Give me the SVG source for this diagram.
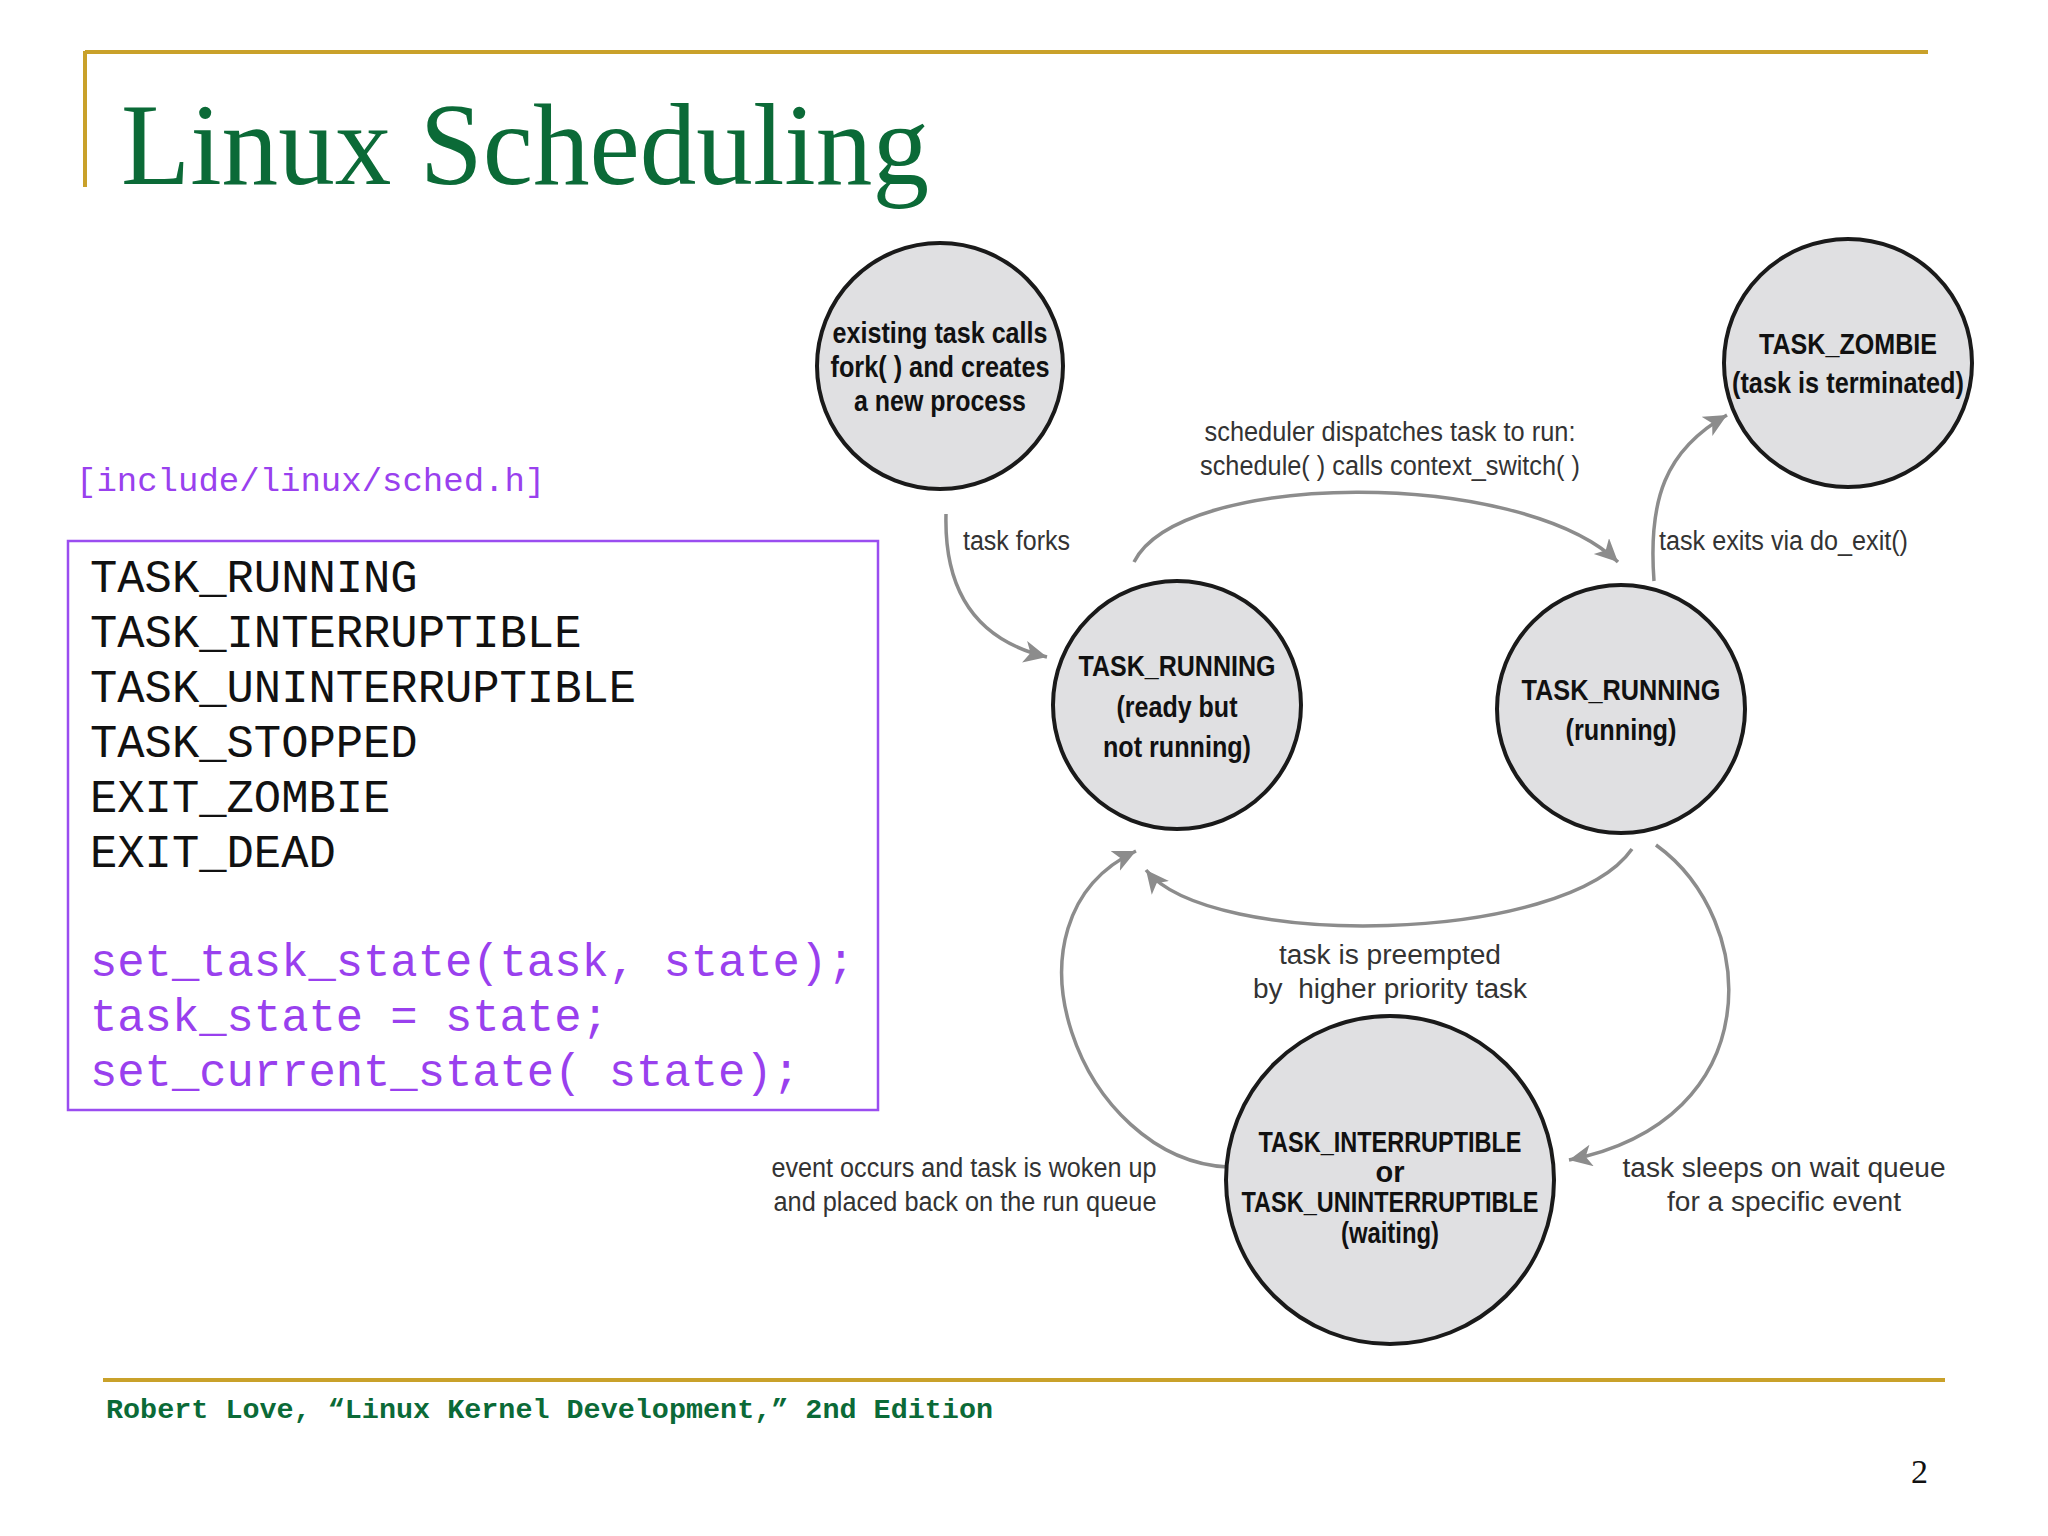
<svg xmlns="http://www.w3.org/2000/svg" width="2048" height="1536" viewBox="0 0 2048 1536">
<defs>
<style>
.gold{stroke:#c9a12a;stroke-width:4;fill:none}
.title{font-family:"Liberation Serif","Times New Roman",serif;font-size:116px;fill:#0b6a37}
.mono{font-family:"Liberation Mono","Courier New",monospace;font-size:45.5px;fill:#111}
.code{font-family:"Liberation Mono","Courier New",monospace;font-size:45.5px;fill:#9940ee}
.inc{font-family:"Liberation Mono","Courier New",monospace;font-size:34px;fill:#9940ee}
.foot{font-family:"Liberation Mono","Courier New",monospace;font-size:28.4px;font-weight:bold;fill:#0b6a37}
.pg{font-family:"Liberation Serif","Times New Roman",serif;font-size:34px;fill:#111}
.node circle{fill:#e0e0e2;stroke:#1a1a1a;stroke-width:4}
.nt{font-family:"Liberation Sans",Arial,sans-serif;font-size:29px;font-weight:bold;fill:#111;text-anchor:middle}
.edge{fill:none;stroke:#8c8c8c;stroke-width:3.5;marker-end:url(#arr)}
.lbl{font-family:"Liberation Sans",Arial,sans-serif;font-size:27px;fill:#333}
</style>
<marker id="arr" markerUnits="userSpaceOnUse" markerWidth="28" markerHeight="24" refX="23" refY="11" orient="auto">
<path d="M0,0 L23,11 L0,22 L6,11 z" fill="#8c8c8c"/>
</marker>
</defs>
<rect width="2048" height="1536" fill="#ffffff"/>

<!-- header -->
<path class="gold" d="M85,52 L1928,52 M85,51 L85,187"/>
<text class="title" x="121" y="184" textLength="808" lengthAdjust="spacingAndGlyphs">Linux Scheduling</text>

<!-- left panel -->
<text class="inc" x="76" y="491">[include/linux/sched.h]</text>
<g id="state-box">
<rect x="68" y="541" width="810" height="569" fill="none" stroke="#9a4df0" stroke-width="2.5"/>
<text class="mono" x="90" y="592">TASK_RUNNING</text>
<text class="mono" x="90" y="647">TASK_INTERRUPTIBLE</text>
<text class="mono" x="90" y="702">TASK_UNINTERRUPTIBLE</text>
<text class="mono" x="90" y="757">TASK_STOPPED</text>
<text class="mono" x="90" y="812">EXIT_ZOMBIE</text>
<text class="mono" x="90" y="867">EXIT_DEAD</text>
<text class="code" x="90" y="976">set_task_state(task, state);</text>
<text class="code" x="90" y="1031">task_state = state;</text>
<text class="code" x="90" y="1086">set_current_state( state);</text>
</g>

<!-- connectors -->
<g id="connectors">
<path class="edge" d="M946,514 C944,590 975,640 1047,657"/>
<path class="edge" d="M1134,562 C1180,470 1520,468 1618,562"/>
<path class="edge" d="M1654,581 C1648,500 1665,450 1727,415"/>
<path class="edge" d="M1632,849 C1565,945 1210,950 1146,870"/>
<path class="edge" d="M1228,1167 C1080,1160 990,920 1136,851"/>
<path class="edge" d="M1656,845 C1760,920 1770,1120 1569,1160"/>
</g>
<g id="edge-labels">
<text class="lbl" x="963" y="550" textLength="107" lengthAdjust="spacingAndGlyphs">task forks</text>
<text class="lbl" x="1390" y="441" text-anchor="middle" textLength="371" lengthAdjust="spacingAndGlyphs">scheduler dispatches task to run:</text>
<text class="lbl" x="1390" y="475" text-anchor="middle" textLength="380" lengthAdjust="spacingAndGlyphs">schedule( ) calls context_switch( )</text>
<text class="lbl" x="1659" y="550" textLength="249" lengthAdjust="spacingAndGlyphs">task exits via do_exit()</text>
<text class="lbl" x="1390" y="964" text-anchor="middle" textLength="222" lengthAdjust="spacingAndGlyphs">task is preempted</text>
<text class="lbl" x="1390" y="998" text-anchor="middle" textLength="274" lengthAdjust="spacingAndGlyphs">by&#160; higher priority task</text>
<text class="lbl" x="964" y="1177" text-anchor="middle" textLength="385" lengthAdjust="spacingAndGlyphs">event occurs and task is woken up</text>
<text class="lbl" x="965" y="1211" text-anchor="middle" textLength="383" lengthAdjust="spacingAndGlyphs">and placed back on the run queue</text>
<text class="lbl" x="1784" y="1177" text-anchor="middle" textLength="323" lengthAdjust="spacingAndGlyphs">task sleeps on wait queue</text>
<text class="lbl" x="1784" y="1211" text-anchor="middle" textLength="234" lengthAdjust="spacingAndGlyphs">for a specific event</text>
</g>

<!-- nodes -->
<g id="node-fork" class="node">
<circle cx="940" cy="366" r="123"/>
<text class="nt" x="940" y="343" textLength="215" lengthAdjust="spacingAndGlyphs">existing task calls</text>
<text class="nt" x="940" y="377" textLength="219" lengthAdjust="spacingAndGlyphs">fork( ) and creates</text>
<text class="nt" x="940" y="411" textLength="172" lengthAdjust="spacingAndGlyphs">a new process</text>
</g>
<g id="node-zombie" class="node">
<circle cx="1848" cy="363" r="124"/>
<text class="nt" x="1848" y="354" textLength="178" lengthAdjust="spacingAndGlyphs">TASK_ZOMBIE</text>
<text class="nt" x="1848" y="393" textLength="232" lengthAdjust="spacingAndGlyphs">(task is terminated)</text>
</g>
<g id="node-ready" class="node">
<circle cx="1177" cy="705" r="124"/>
<text class="nt" x="1177" y="676" textLength="197" lengthAdjust="spacingAndGlyphs">TASK_RUNNING</text>
<text class="nt" x="1177" y="717" textLength="121" lengthAdjust="spacingAndGlyphs">(ready but</text>
<text class="nt" x="1177" y="757" textLength="148" lengthAdjust="spacingAndGlyphs">not running)</text>
</g>
<g id="node-running" class="node">
<circle cx="1621" cy="709" r="124"/>
<text class="nt" x="1621" y="700" textLength="199" lengthAdjust="spacingAndGlyphs">TASK_RUNNING</text>
<text class="nt" x="1621" y="740" textLength="111" lengthAdjust="spacingAndGlyphs">(running)</text>
</g>
<g id="node-waiting" class="node">
<circle cx="1390" cy="1180" r="164"/>
<text class="nt" x="1390" y="1152" textLength="263" lengthAdjust="spacingAndGlyphs">TASK_INTERRUPTIBLE</text>
<text class="nt" x="1390" y="1182">or</text>
<text class="nt" x="1390" y="1212" textLength="297" lengthAdjust="spacingAndGlyphs">TASK_UNINTERRUPTIBLE</text>
<text class="nt" x="1390" y="1243" textLength="98" lengthAdjust="spacingAndGlyphs">(waiting)</text>
</g>

<!-- footer -->
<path class="gold" d="M103,1380 L1945,1380"/>
<text class="foot" x="106" y="1418" textLength="887" lengthAdjust="spacingAndGlyphs">Robert Love, “Linux Kernel Development,” 2nd Edition</text>
<text class="pg" x="1911" y="1483">2</text>
</svg>
